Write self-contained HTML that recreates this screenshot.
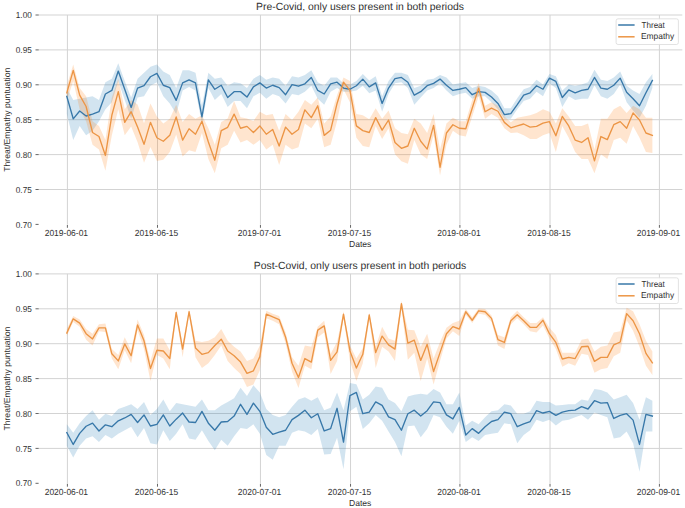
<!DOCTYPE html>
<html><head><meta charset="utf-8"><style>
html,body{margin:0;padding:0;background:#fff;}
body{width:685px;height:508px;overflow:hidden;}
svg{display:block;font-family:"Liberation Sans", sans-serif;text-rendering:geometricPrecision;}
text{fill:#303030;}
</style></head><body>
<svg width="685" height="508" viewBox="0 0 685 508">
<rect width="685" height="508" fill="#fff"/>
<line x1="38.1" y1="15.00" x2="682.3" y2="15.00" stroke="#d3d3d3" stroke-width="1.0"/>
<line x1="38.1" y1="49.90" x2="682.3" y2="49.90" stroke="#d3d3d3" stroke-width="1.0"/>
<line x1="38.1" y1="84.80" x2="682.3" y2="84.80" stroke="#d3d3d3" stroke-width="1.0"/>
<line x1="38.1" y1="119.70" x2="682.3" y2="119.70" stroke="#d3d3d3" stroke-width="1.0"/>
<line x1="38.1" y1="154.60" x2="682.3" y2="154.60" stroke="#d3d3d3" stroke-width="1.0"/>
<line x1="38.1" y1="189.50" x2="682.3" y2="189.50" stroke="#d3d3d3" stroke-width="1.0"/>
<line x1="67.40" y1="15.00" x2="67.40" y2="224.40" stroke="#d3d3d3" stroke-width="1.0"/>
<line x1="67.40" y1="224.90" x2="67.40" y2="227.80" stroke="#555" stroke-width="0.9"/>
<line x1="157.49" y1="15.00" x2="157.49" y2="224.40" stroke="#d3d3d3" stroke-width="1.0"/>
<line x1="157.49" y1="224.90" x2="157.49" y2="227.80" stroke="#555" stroke-width="0.9"/>
<line x1="260.45" y1="15.00" x2="260.45" y2="224.40" stroke="#d3d3d3" stroke-width="1.0"/>
<line x1="260.45" y1="224.90" x2="260.45" y2="227.80" stroke="#555" stroke-width="0.9"/>
<line x1="350.54" y1="15.00" x2="350.54" y2="224.40" stroke="#d3d3d3" stroke-width="1.0"/>
<line x1="350.54" y1="224.90" x2="350.54" y2="227.80" stroke="#555" stroke-width="0.9"/>
<line x1="459.93" y1="15.00" x2="459.93" y2="224.40" stroke="#d3d3d3" stroke-width="1.0"/>
<line x1="459.93" y1="224.90" x2="459.93" y2="227.80" stroke="#555" stroke-width="0.9"/>
<line x1="550.02" y1="15.00" x2="550.02" y2="224.40" stroke="#d3d3d3" stroke-width="1.0"/>
<line x1="550.02" y1="224.90" x2="550.02" y2="227.80" stroke="#555" stroke-width="0.9"/>
<line x1="659.42" y1="15.00" x2="659.42" y2="224.40" stroke="#d3d3d3" stroke-width="1.0"/>
<line x1="659.42" y1="224.90" x2="659.42" y2="227.80" stroke="#555" stroke-width="0.9"/>
<line x1="35.5" y1="15.00" x2="38.6" y2="15.00" stroke="#555" stroke-width="0.9"/>
<text x="31.8" y="18.10" text-anchor="end" font-size="8.6" textLength="16" lengthAdjust="spacingAndGlyphs">1.00</text>
<line x1="35.5" y1="49.90" x2="38.6" y2="49.90" stroke="#555" stroke-width="0.9"/>
<text x="31.8" y="53.00" text-anchor="end" font-size="8.6" textLength="16" lengthAdjust="spacingAndGlyphs">0.95</text>
<line x1="35.5" y1="84.80" x2="38.6" y2="84.80" stroke="#555" stroke-width="0.9"/>
<text x="31.8" y="87.90" text-anchor="end" font-size="8.6" textLength="16" lengthAdjust="spacingAndGlyphs">0.90</text>
<line x1="35.5" y1="119.70" x2="38.6" y2="119.70" stroke="#555" stroke-width="0.9"/>
<text x="31.8" y="122.80" text-anchor="end" font-size="8.6" textLength="16" lengthAdjust="spacingAndGlyphs">0.85</text>
<line x1="35.5" y1="154.60" x2="38.6" y2="154.60" stroke="#555" stroke-width="0.9"/>
<text x="31.8" y="157.70" text-anchor="end" font-size="8.6" textLength="16" lengthAdjust="spacingAndGlyphs">0.80</text>
<line x1="35.5" y1="189.50" x2="38.6" y2="189.50" stroke="#555" stroke-width="0.9"/>
<text x="31.8" y="192.60" text-anchor="end" font-size="8.6" textLength="16" lengthAdjust="spacingAndGlyphs">0.75</text>
<line x1="35.5" y1="224.40" x2="38.6" y2="224.40" stroke="#555" stroke-width="0.9"/>
<text x="31.8" y="227.50" text-anchor="end" font-size="8.6" textLength="16" lengthAdjust="spacingAndGlyphs">0.70</text>
<text x="44.70" y="235.70" font-size="8.8" textLength="43.4" lengthAdjust="spacingAndGlyphs">2019-06-01</text>
<text x="134.79" y="235.70" font-size="8.8" textLength="43.4" lengthAdjust="spacingAndGlyphs">2019-06-15</text>
<text x="237.75" y="235.70" font-size="8.8" textLength="43.4" lengthAdjust="spacingAndGlyphs">2019-07-01</text>
<text x="327.84" y="235.70" font-size="8.8" textLength="43.4" lengthAdjust="spacingAndGlyphs">2019-07-15</text>
<text x="437.23" y="235.70" font-size="8.8" textLength="43.4" lengthAdjust="spacingAndGlyphs">2019-08-01</text>
<text x="527.32" y="235.70" font-size="8.8" textLength="43.4" lengthAdjust="spacingAndGlyphs">2019-08-15</text>
<text x="636.72" y="235.70" font-size="8.8" textLength="43.4" lengthAdjust="spacingAndGlyphs">2019-09-01</text>
<text x="360.20" y="246.70" text-anchor="middle" font-size="8.6">Dates</text>
<text transform="translate(9.6,119.70) rotate(-90)" text-anchor="middle" font-size="8.6" textLength="104" lengthAdjust="spacingAndGlyphs">Threat/Empathy puntuation</text>
<text x="256.10" y="9.80" font-size="10.4" textLength="207.8" lengthAdjust="spacingAndGlyphs">Pre-Covid, only users present in both periods</text>
<path d="M66.80,88.09 L73.23,99.91 L79.67,98.72 L86.10,97.54 L92.54,96.36 L98.97,99.91 L105.41,82.18 L111.84,78.64 L118.28,63.27 L124.72,81.00 L131.15,97.54 L137.58,78.64 L144.02,72.73 L150.45,66.82 L156.89,64.45 L163.32,71.54 L169.76,75.09 L176.19,88.09 L182.63,70.36 L189.06,70.36 L195.50,72.73 L201.94,105.82 L208.37,72.73 L214.81,78.64 L221.24,77.45 L227.68,85.73 L234.11,82.18 L240.54,83.36 L246.98,88.09 L253.41,78.64 L259.85,75.09 L266.28,79.82 L272.72,77.45 L279.15,78.64 L285.59,85.73 L292.02,76.27 L298.46,77.45 L304.89,75.09 L311.33,70.36 L317.76,82.18 L324.20,85.73 L330.63,77.45 L337.07,77.45 L343.50,83.36 L349.94,84.54 L356.38,81.00 L362.81,73.91 L369.25,80.53 L375.68,76.27 L382.12,96.36 L388.55,81.00 L394.99,72.73 L401.42,72.73 L407.86,75.09 L414.29,88.09 L420.72,85.73 L427.16,79.82 L433.59,78.64 L440.03,75.09 L446.46,77.45 L452.90,84.54 L459.33,83.36 L465.77,82.18 L472.20,88.09 L478.64,85.73 L485.07,86.91 L491.51,90.45 L497.94,96.36 L504.38,108.18 L510.81,108.18 L517.25,98.25 L523.68,89.27 L530.12,86.91 L536.55,79.82 L542.99,84.54 L549.42,73.91 L555.86,76.27 L562.29,90.45 L568.73,84.54 L575.16,85.73 L581.60,84.54 L588.03,82.18 L594.47,69.65 L600.90,79.82 L607.34,81.00 L613.77,77.45 L620.21,71.54 L626.64,85.73 L633.08,90.45 L639.51,94.00 L645.95,82.18 L652.38,73.91 L652.38,88.09 L645.95,105.82 L639.51,117.63 L633.08,110.54 L626.64,102.27 L620.21,84.54 L613.77,94.00 L607.34,98.72 L600.90,96.36 L594.47,85.25 L588.03,98.72 L581.60,98.72 L575.16,99.91 L568.73,96.36 L562.29,107.00 L555.86,88.09 L549.42,83.36 L542.99,96.36 L536.55,91.63 L530.12,98.72 L523.68,101.09 L517.25,109.36 L510.81,118.81 L504.38,118.81 L497.94,109.36 L491.51,102.27 L485.07,96.36 L478.64,96.36 L472.20,98.72 L465.77,92.82 L459.33,94.00 L452.90,96.36 L446.46,90.45 L440.03,83.36 L433.59,88.09 L427.16,90.45 L420.72,97.54 L414.29,104.63 L407.86,88.09 L401.42,82.18 L394.99,83.36 L388.55,94.00 L382.12,111.72 L375.68,90.45 L369.25,93.29 L362.81,85.73 L356.38,90.45 L349.94,91.63 L343.50,91.63 L337.07,88.09 L330.63,91.63 L324.20,104.63 L317.76,98.72 L311.33,85.73 L304.89,91.63 L298.46,95.18 L292.02,94.00 L285.59,103.45 L279.15,96.36 L272.72,94.00 L266.28,98.72 L259.85,92.82 L253.41,96.36 L246.98,108.18 L240.54,101.09 L234.11,101.09 L227.68,107.00 L221.24,94.00 L214.81,99.91 L208.37,88.09 L201.94,123.54 L195.50,90.45 L189.06,86.91 L182.63,90.45 L176.19,114.09 L169.76,103.45 L163.32,96.36 L156.89,82.18 L150.45,85.73 L144.02,96.36 L137.58,97.54 L131.15,118.81 L124.72,99.91 L118.28,81.00 L111.84,102.27 L105.41,109.36 L98.97,121.18 L92.54,130.63 L86.10,135.36 L79.67,125.91 L73.23,140.09 L66.80,114.09 Z" fill="#1f77b4" fill-opacity="0.2" stroke="none"/>
<path d="M66.80,85.73 L73.23,64.45 L79.67,88.09 L86.10,96.36 L92.54,121.18 L98.97,125.91 L105.41,140.09 L111.84,97.54 L118.28,78.64 L124.72,109.36 L131.15,99.91 L137.58,104.40 L144.02,123.31 L150.45,103.45 L156.89,116.45 L163.32,123.54 L169.76,118.81 L176.19,104.63 L182.63,121.89 L189.06,114.09 L195.50,118.81 L201.94,115.27 L208.37,128.27 L214.81,144.81 L221.24,121.89 L227.68,118.58 L234.11,101.09 L240.54,117.16 L246.98,118.58 L253.41,120.94 L259.85,111.72 L266.28,115.27 L272.72,114.09 L279.15,130.63 L285.59,114.09 L292.02,120.00 L298.46,111.72 L304.89,99.91 L311.33,104.63 L317.76,97.54 L324.20,123.54 L330.63,116.45 L337.07,95.18 L343.50,77.45 L349.94,81.00 L356.38,114.09 L362.81,115.27 L369.25,119.29 L375.68,108.18 L382.12,118.81 L388.55,110.54 L394.99,128.27 L401.42,133.00 L407.86,134.18 L414.29,118.81 L420.72,123.54 L427.16,133.00 L433.59,114.09 L440.03,149.54 L446.46,123.54 L452.90,117.63 L459.33,121.18 L465.77,121.18 L472.20,99.91 L478.64,82.89 L485.07,105.82 L491.51,102.27 L497.94,105.82 L504.38,116.45 L510.81,122.36 L517.25,117.63 L523.68,116.45 L530.12,115.27 L536.55,112.91 L542.99,109.36 L549.42,111.72 L555.86,123.54 L562.29,108.18 L568.73,116.45 L575.16,125.91 L581.60,125.91 L588.03,123.54 L594.47,149.54 L600.90,118.81 L607.34,118.81 L613.77,109.36 L620.21,105.82 L626.64,112.91 L633.08,105.82 L639.51,109.36 L645.95,117.63 L652.38,117.63 L652.38,153.09 L645.95,151.90 L639.51,137.72 L633.08,125.91 L626.64,143.63 L620.21,137.72 L613.77,140.09 L607.34,158.99 L600.90,154.27 L594.47,173.18 L588.03,158.99 L581.60,158.99 L575.16,151.90 L568.73,137.72 L562.29,125.91 L555.86,151.90 L549.42,133.00 L542.99,135.36 L536.55,138.90 L530.12,138.90 L523.68,135.36 L517.25,132.52 L510.81,133.00 L504.38,128.27 L497.94,117.63 L491.51,114.09 L485.07,118.81 L478.64,96.36 L472.20,116.45 L465.77,136.54 L459.33,135.36 L452.90,130.63 L446.46,144.81 L440.03,175.54 L433.59,135.36 L427.16,158.99 L420.72,154.27 L414.29,140.09 L407.86,163.72 L401.42,161.36 L394.99,154.27 L388.55,128.27 L382.12,138.90 L375.68,125.91 L369.25,147.18 L362.81,146.00 L356.38,137.72 L349.94,102.27 L343.50,89.27 L337.07,121.18 L330.63,144.81 L324.20,147.18 L317.76,118.81 L311.33,128.27 L304.89,123.54 L298.46,147.18 L292.02,149.54 L285.59,144.81 L279.15,164.90 L272.72,144.81 L266.28,149.54 L259.85,140.09 L253.41,144.81 L246.98,140.09 L240.54,142.45 L234.11,130.63 L227.68,144.81 L221.24,148.36 L214.81,173.18 L208.37,158.99 L201.94,133.00 L195.50,151.90 L189.06,150.25 L182.63,156.39 L176.19,134.41 L169.76,151.90 L163.32,159.70 L156.89,161.12 L150.45,146.94 L144.02,162.78 L137.58,142.21 L131.15,126.38 L124.72,135.36 L118.28,109.36 L111.84,135.36 L105.41,170.81 L98.97,149.54 L92.54,144.81 L86.10,121.18 L79.67,109.36 L73.23,81.00 L66.80,101.09 Z" fill="#ff7f0e" fill-opacity="0.2" stroke="none"/>
<path d="M66.80,96.36 L73.23,118.81 L79.67,111.02 L86.10,115.98 L92.54,114.09 L98.97,111.72 L105.41,94.00 L111.84,90.45 L118.28,71.07 L124.72,89.27 L131.15,107.47 L137.58,88.09 L144.02,85.73 L150.45,76.74 L156.89,73.44 L163.32,85.25 L169.76,87.62 L176.19,100.38 L182.63,82.89 L189.06,79.82 L195.50,82.89 L201.94,116.92 L208.37,79.82 L214.81,89.27 L221.24,85.25 L227.68,97.54 L234.11,91.63 L240.54,91.63 L246.98,97.07 L253.41,86.91 L259.85,82.89 L266.28,88.09 L272.72,85.25 L279.15,87.62 L285.59,94.71 L292.02,84.54 L298.46,86.20 L304.89,83.83 L311.33,77.45 L317.76,90.45 L324.20,94.00 L330.63,83.83 L337.07,82.18 L343.50,88.09 L349.94,89.27 L356.38,85.73 L362.81,79.11 L369.25,86.91 L375.68,82.89 L382.12,103.45 L388.55,88.09 L394.99,78.64 L401.42,77.45 L407.86,82.18 L414.29,95.18 L420.72,91.63 L427.16,85.73 L433.59,83.36 L440.03,79.11 L446.46,85.25 L452.90,90.45 L459.33,89.27 L465.77,87.62 L472.20,94.71 L478.64,91.63 L485.07,92.34 L491.51,97.07 L497.94,103.45 L504.38,114.56 L510.81,113.61 L517.25,104.63 L523.68,95.18 L530.12,92.82 L536.55,85.73 L542.99,89.27 L549.42,78.16 L555.86,81.47 L562.29,97.54 L568.73,89.98 L575.16,92.82 L581.60,90.45 L588.03,89.27 L594.47,77.45 L600.90,88.09 L607.34,89.27 L613.77,85.25 L620.21,78.16 L626.64,92.34 L633.08,98.72 L639.51,105.82 L645.95,92.82 L652.38,80.53" fill="none" stroke="#3878a9" stroke-width="1.35" stroke-linejoin="round" stroke-linecap="square"/>
<path d="M66.80,92.82 L73.23,70.36 L79.67,95.18 L86.10,106.52 L92.54,132.52 L98.97,136.54 L105.41,155.45 L111.84,115.27 L118.28,91.63 L124.72,122.36 L131.15,111.72 L137.58,127.09 L144.02,144.34 L150.45,122.36 L156.89,137.72 L163.32,141.27 L169.76,135.36 L176.19,116.92 L182.63,140.09 L189.06,128.74 L195.50,134.18 L201.94,121.18 L208.37,141.98 L214.81,160.18 L221.24,130.63 L227.68,127.32 L234.11,114.09 L240.54,128.27 L246.98,126.38 L253.41,132.52 L259.85,125.91 L266.28,134.18 L272.72,129.45 L279.15,146.00 L285.59,127.09 L292.02,134.18 L298.46,129.45 L304.89,109.83 L311.33,117.63 L317.76,105.82 L324.20,135.36 L330.63,130.16 L337.07,103.45 L343.50,82.18 L349.94,90.45 L356.38,125.91 L362.81,130.63 L369.25,132.52 L375.68,117.63 L382.12,130.16 L388.55,120.00 L394.99,142.45 L401.42,148.36 L407.86,146.00 L414.29,128.27 L420.72,141.27 L427.16,149.07 L433.59,125.43 L440.03,167.27 L446.46,133.00 L452.90,124.72 L459.33,128.27 L465.77,128.74 L472.20,108.18 L478.64,88.09 L485.07,111.72 L491.51,108.18 L497.94,111.25 L504.38,122.36 L510.81,127.80 L517.25,125.91 L523.68,124.01 L530.12,127.09 L536.55,126.38 L542.99,123.07 L549.42,121.65 L555.86,135.83 L562.29,116.45 L568.73,125.91 L575.16,140.09 L581.60,142.45 L588.03,137.72 L594.47,160.89 L600.90,136.54 L607.34,139.61 L613.77,124.72 L620.21,121.65 L626.64,128.27 L633.08,112.91 L639.51,120.00 L645.95,133.00 L652.38,135.36" fill="none" stroke="#ec9545" stroke-width="1.35" stroke-linejoin="round" stroke-linecap="square"/>
<rect x="616.1" y="18.80" width="62.3" height="25.7" rx="2" ry="2" fill="#ffffff" fill-opacity="0.93" stroke="#dadada" stroke-width="0.8"/>
<line x1="618.2" y1="25.00" x2="634.6" y2="25.00" stroke="#3878a9" stroke-width="1.5"/>
<line x1="618.2" y1="36.80" x2="634.6" y2="36.80" stroke="#ec9545" stroke-width="1.5"/>
<text x="641.6" y="28.00" font-size="8.6" textLength="23.2" lengthAdjust="spacingAndGlyphs">Threat</text>
<text x="641.0" y="39.10" font-size="8.6" textLength="33.2" lengthAdjust="spacingAndGlyphs">Empathy</text>
<line x1="38.1" y1="273.90" x2="682.3" y2="273.90" stroke="#d3d3d3" stroke-width="1.0"/>
<line x1="38.1" y1="308.80" x2="682.3" y2="308.80" stroke="#d3d3d3" stroke-width="1.0"/>
<line x1="38.1" y1="343.70" x2="682.3" y2="343.70" stroke="#d3d3d3" stroke-width="1.0"/>
<line x1="38.1" y1="378.60" x2="682.3" y2="378.60" stroke="#d3d3d3" stroke-width="1.0"/>
<line x1="38.1" y1="413.50" x2="682.3" y2="413.50" stroke="#d3d3d3" stroke-width="1.0"/>
<line x1="38.1" y1="448.40" x2="682.3" y2="448.40" stroke="#d3d3d3" stroke-width="1.0"/>
<line x1="67.40" y1="273.90" x2="67.40" y2="483.30" stroke="#d3d3d3" stroke-width="1.0"/>
<line x1="67.40" y1="483.80" x2="67.40" y2="486.70" stroke="#555" stroke-width="0.9"/>
<line x1="157.49" y1="273.90" x2="157.49" y2="483.30" stroke="#d3d3d3" stroke-width="1.0"/>
<line x1="157.49" y1="483.80" x2="157.49" y2="486.70" stroke="#555" stroke-width="0.9"/>
<line x1="260.45" y1="273.90" x2="260.45" y2="483.30" stroke="#d3d3d3" stroke-width="1.0"/>
<line x1="260.45" y1="483.80" x2="260.45" y2="486.70" stroke="#555" stroke-width="0.9"/>
<line x1="350.54" y1="273.90" x2="350.54" y2="483.30" stroke="#d3d3d3" stroke-width="1.0"/>
<line x1="350.54" y1="483.80" x2="350.54" y2="486.70" stroke="#555" stroke-width="0.9"/>
<line x1="459.93" y1="273.90" x2="459.93" y2="483.30" stroke="#d3d3d3" stroke-width="1.0"/>
<line x1="459.93" y1="483.80" x2="459.93" y2="486.70" stroke="#555" stroke-width="0.9"/>
<line x1="550.02" y1="273.90" x2="550.02" y2="483.30" stroke="#d3d3d3" stroke-width="1.0"/>
<line x1="550.02" y1="483.80" x2="550.02" y2="486.70" stroke="#555" stroke-width="0.9"/>
<line x1="659.42" y1="273.90" x2="659.42" y2="483.30" stroke="#d3d3d3" stroke-width="1.0"/>
<line x1="659.42" y1="483.80" x2="659.42" y2="486.70" stroke="#555" stroke-width="0.9"/>
<line x1="35.5" y1="273.90" x2="38.6" y2="273.90" stroke="#555" stroke-width="0.9"/>
<text x="31.8" y="277.00" text-anchor="end" font-size="8.6" textLength="16" lengthAdjust="spacingAndGlyphs">1.00</text>
<line x1="35.5" y1="308.80" x2="38.6" y2="308.80" stroke="#555" stroke-width="0.9"/>
<text x="31.8" y="311.90" text-anchor="end" font-size="8.6" textLength="16" lengthAdjust="spacingAndGlyphs">0.95</text>
<line x1="35.5" y1="343.70" x2="38.6" y2="343.70" stroke="#555" stroke-width="0.9"/>
<text x="31.8" y="346.80" text-anchor="end" font-size="8.6" textLength="16" lengthAdjust="spacingAndGlyphs">0.90</text>
<line x1="35.5" y1="378.60" x2="38.6" y2="378.60" stroke="#555" stroke-width="0.9"/>
<text x="31.8" y="381.70" text-anchor="end" font-size="8.6" textLength="16" lengthAdjust="spacingAndGlyphs">0.85</text>
<line x1="35.5" y1="413.50" x2="38.6" y2="413.50" stroke="#555" stroke-width="0.9"/>
<text x="31.8" y="416.60" text-anchor="end" font-size="8.6" textLength="16" lengthAdjust="spacingAndGlyphs">0.80</text>
<line x1="35.5" y1="448.40" x2="38.6" y2="448.40" stroke="#555" stroke-width="0.9"/>
<text x="31.8" y="451.50" text-anchor="end" font-size="8.6" textLength="16" lengthAdjust="spacingAndGlyphs">0.75</text>
<line x1="35.5" y1="483.30" x2="38.6" y2="483.30" stroke="#555" stroke-width="0.9"/>
<text x="31.8" y="486.40" text-anchor="end" font-size="8.6" textLength="16" lengthAdjust="spacingAndGlyphs">0.70</text>
<text x="44.70" y="494.60" font-size="8.8" textLength="43.4" lengthAdjust="spacingAndGlyphs">2020-06-01</text>
<text x="134.79" y="494.60" font-size="8.8" textLength="43.4" lengthAdjust="spacingAndGlyphs">2020-06-15</text>
<text x="237.75" y="494.60" font-size="8.8" textLength="43.4" lengthAdjust="spacingAndGlyphs">2020-07-01</text>
<text x="327.84" y="494.60" font-size="8.8" textLength="43.4" lengthAdjust="spacingAndGlyphs">2020-07-15</text>
<text x="437.23" y="494.60" font-size="8.8" textLength="43.4" lengthAdjust="spacingAndGlyphs">2020-08-01</text>
<text x="527.32" y="494.60" font-size="8.8" textLength="43.4" lengthAdjust="spacingAndGlyphs">2020-08-15</text>
<text x="636.72" y="494.60" font-size="8.8" textLength="43.4" lengthAdjust="spacingAndGlyphs">2020-09-01</text>
<text x="360.20" y="505.60" text-anchor="middle" font-size="8.6">Dates</text>
<text transform="translate(9.6,378.60) rotate(-90)" text-anchor="middle" font-size="8.6" textLength="104" lengthAdjust="spacingAndGlyphs">Threat/Empathy puntuation</text>
<text x="253.80" y="268.70" font-size="10.4" textLength="212.4" lengthAdjust="spacingAndGlyphs">Post-Covid, only users present in both periods</text>
<path d="M66.80,424.36 L73.23,432.63 L79.67,423.18 L86.10,416.09 L92.54,410.18 L98.97,419.63 L105.41,413.72 L111.84,416.09 L118.28,409.00 L124.72,406.63 L131.15,404.27 L137.58,409.00 L144.02,401.91 L150.45,414.91 L156.89,409.00 L163.32,399.54 L169.76,411.36 L176.19,403.09 L182.63,404.27 L189.06,405.45 L195.50,406.63 L201.94,399.54 L208.37,410.18 L214.81,410.18 L221.24,405.45 L227.68,401.91 L234.11,398.36 L240.54,387.73 L246.98,396.00 L253.41,385.36 L259.85,392.45 L266.28,409.00 L272.72,414.91 L279.15,417.27 L285.59,414.91 L292.02,406.63 L298.46,399.54 L304.89,397.18 L311.33,400.73 L317.76,397.18 L324.20,410.18 L330.63,407.82 L337.07,392.45 L343.50,410.18 L349.94,383.00 L356.38,384.18 L362.81,399.54 L369.25,394.82 L375.68,386.54 L382.12,387.73 L388.55,399.54 L394.99,403.09 L401.42,411.36 L407.86,396.47 L414.29,394.82 L420.72,393.64 L427.16,394.82 L433.59,388.91 L440.03,392.45 L446.46,404.27 L452.90,404.27 L459.33,392.45 L465.77,425.54 L472.20,420.82 L478.64,424.36 L485.07,417.27 L491.51,411.36 L497.94,410.18 L504.38,404.27 L510.81,405.45 L517.25,413.72 L523.68,413.72 L530.12,411.36 L536.55,400.73 L542.99,401.91 L549.42,401.91 L555.86,405.45 L562.29,404.98 L568.73,404.27 L575.16,404.27 L581.60,399.54 L588.03,400.73 L594.47,388.91 L600.90,390.09 L607.34,392.45 L613.77,399.54 L620.21,397.18 L626.64,394.82 L633.08,403.09 L639.51,419.63 L645.95,397.18 L652.38,400.73 L652.38,431.45 L645.95,431.45 L639.51,471.63 L633.08,443.27 L626.64,431.45 L620.21,437.36 L613.77,438.54 L607.34,417.27 L600.90,414.91 L594.47,412.54 L588.03,419.63 L581.60,414.91 L575.16,417.27 L568.73,419.63 L562.29,420.82 L555.86,425.54 L549.42,419.63 L542.99,422.00 L536.55,419.63 L530.12,430.27 L523.68,435.00 L517.25,443.27 L510.81,424.36 L504.38,423.18 L497.94,432.63 L491.51,433.81 L485.07,435.00 L478.64,440.91 L472.20,437.36 L465.77,442.09 L459.33,420.82 L452.90,433.81 L446.46,426.72 L440.03,417.27 L433.59,414.91 L427.16,429.09 L420.72,437.36 L414.29,425.54 L407.86,426.25 L401.42,456.27 L394.99,442.09 L388.55,431.45 L382.12,420.82 L375.68,414.91 L369.25,423.18 L362.81,429.09 L356.38,406.63 L349.94,411.36 L343.50,469.27 L337.07,437.83 L330.63,453.90 L324.20,454.38 L317.76,429.09 L311.33,435.00 L304.89,431.45 L298.46,430.27 L292.02,432.63 L285.59,445.63 L279.15,445.63 L272.72,459.81 L266.28,455.09 L259.85,433.81 L253.41,424.36 L246.98,429.09 L240.54,427.91 L234.11,436.18 L227.68,445.63 L221.24,439.72 L214.81,450.36 L208.37,440.91 L201.94,430.27 L195.50,439.72 L189.06,438.54 L182.63,424.36 L176.19,433.81 L169.76,440.91 L163.32,430.27 L156.89,444.45 L150.45,443.27 L144.02,427.91 L137.58,437.36 L131.15,426.72 L124.72,430.27 L118.28,433.81 L111.84,438.54 L105.41,435.00 L98.97,442.09 L92.54,436.18 L86.10,438.54 L79.67,445.63 L73.23,457.45 L66.80,445.63 Z" fill="#1f77b4" fill-opacity="0.2" stroke="none"/>
<path d="M66.80,329.00 L73.23,316.00 L79.67,319.54 L86.10,329.00 L92.54,333.72 L98.97,324.27 L105.41,323.56 L111.84,349.09 L118.28,355.00 L124.72,337.27 L131.15,350.27 L137.58,319.54 L144.02,334.91 L150.45,360.91 L156.89,338.45 L163.32,338.45 L169.76,350.27 L176.19,310.09 L182.63,344.36 L189.06,308.91 L195.50,340.82 L201.94,342.00 L208.37,340.82 L214.81,337.27 L221.24,329.00 L227.68,340.82 L234.11,346.72 L240.54,351.45 L246.98,360.91 L253.41,358.54 L259.85,345.54 L266.28,310.80 L272.72,313.64 L279.15,316.00 L285.59,332.54 L292.02,357.36 L298.46,365.63 L304.89,345.54 L311.33,346.72 L317.76,326.63 L324.20,320.73 L330.63,353.81 L337.07,342.00 L343.50,311.27 L349.94,345.54 L356.38,358.54 L362.81,347.91 L369.25,312.45 L375.68,346.72 L382.12,326.63 L388.55,338.45 L394.99,340.82 L401.42,300.64 L407.86,329.71 L414.29,330.18 L420.72,346.72 L427.16,333.72 L433.59,358.54 L440.03,342.00 L446.46,327.82 L452.90,323.09 L459.33,320.73 L465.77,308.91 L472.20,317.18 L478.64,308.44 L485.07,308.91 L491.51,315.53 L497.94,334.91 L504.38,337.27 L510.81,317.18 L517.25,310.80 L523.68,317.18 L530.12,323.09 L536.55,323.09 L542.99,317.18 L549.42,327.82 L555.86,334.91 L562.29,352.63 L568.73,352.63 L575.16,352.63 L581.60,339.63 L588.03,338.45 L594.47,351.45 L600.90,346.72 L607.34,345.54 L613.77,332.54 L620.21,331.36 L626.64,307.73 L633.08,311.27 L639.51,324.27 L645.95,340.82 L652.38,351.45 L652.38,375.09 L645.95,365.63 L639.51,346.72 L633.08,330.65 L626.64,320.25 L620.21,352.63 L613.77,356.18 L607.34,368.00 L600.90,369.18 L594.47,372.72 L588.03,355.00 L581.60,353.81 L575.16,365.63 L568.73,363.27 L562.29,366.81 L555.86,349.09 L549.42,338.45 L542.99,325.45 L536.55,332.54 L530.12,331.36 L523.68,324.27 L517.25,318.36 L510.81,324.27 L504.38,349.09 L497.94,345.54 L491.51,321.91 L485.07,314.82 L478.64,313.64 L472.20,323.09 L465.77,314.82 L459.33,336.09 L452.90,331.36 L446.46,338.45 L440.03,360.91 L433.59,384.54 L427.16,358.54 L420.72,381.00 L414.29,352.63 L407.86,359.72 L401.42,307.73 L394.99,360.91 L388.55,351.45 L382.12,346.72 L375.68,368.00 L369.25,319.54 L362.81,363.27 L356.38,381.00 L349.94,360.91 L343.50,318.36 L337.07,360.91 L330.63,373.90 L324.20,332.54 L317.76,337.27 L311.33,369.18 L304.89,365.63 L298.46,388.09 L292.02,371.54 L285.59,343.18 L279.15,324.27 L272.72,320.73 L266.28,318.36 L259.85,370.36 L253.41,384.54 L246.98,386.90 L240.54,373.90 L234.11,368.00 L227.68,360.91 L221.24,345.54 L214.81,355.00 L208.37,363.27 L201.94,368.00 L195.50,357.36 L189.06,314.82 L182.63,357.36 L176.19,316.00 L169.76,369.18 L163.32,358.54 L156.89,355.00 L150.45,381.00 L144.02,349.09 L137.58,330.18 L131.15,363.27 L124.72,350.27 L118.28,369.18 L111.84,358.54 L105.41,332.07 L98.97,331.36 L92.54,345.54 L86.10,339.63 L79.67,326.63 L73.23,321.91 L66.80,336.09 Z" fill="#ff7f0e" fill-opacity="0.2" stroke="none"/>
<path d="M66.80,432.63 L73.23,444.45 L79.67,433.34 L86.10,426.25 L92.54,423.18 L98.97,430.98 L105.41,424.83 L111.84,426.72 L118.28,420.82 L124.72,417.98 L131.15,414.43 L137.58,422.47 L144.02,414.91 L150.45,426.02 L156.89,424.36 L163.32,414.91 L169.76,426.02 L176.19,419.16 L182.63,413.02 L189.06,422.00 L195.50,422.47 L201.94,411.36 L208.37,423.18 L214.81,430.27 L221.24,422.00 L227.68,421.52 L234.11,416.09 L240.54,404.27 L246.98,414.43 L253.41,403.09 L259.85,411.36 L266.28,427.20 L272.72,434.29 L279.15,432.16 L285.59,430.27 L292.02,419.63 L298.46,415.38 L304.89,410.18 L311.33,417.74 L317.76,413.72 L324.20,430.98 L330.63,428.61 L337.07,408.29 L343.50,442.09 L349.94,395.53 L356.38,392.45 L362.81,413.72 L369.25,412.07 L375.68,401.91 L382.12,405.45 L388.55,416.80 L394.99,419.63 L401.42,430.27 L407.86,413.72 L414.29,410.18 L420.72,416.09 L427.16,410.65 L433.59,401.91 L440.03,402.62 L446.46,414.91 L452.90,418.92 L459.33,407.34 L465.77,435.00 L472.20,428.61 L478.64,433.34 L485.07,426.72 L491.51,421.52 L497.94,419.63 L504.38,412.07 L510.81,413.72 L517.25,426.72 L523.68,423.89 L530.12,421.52 L536.55,410.65 L542.99,413.02 L549.42,411.36 L555.86,415.38 L562.29,412.07 L568.73,410.65 L575.16,410.18 L581.60,406.63 L588.03,409.00 L594.47,400.73 L600.90,403.09 L607.34,402.62 L613.77,418.45 L620.21,415.38 L626.64,413.72 L633.08,420.11 L639.51,444.45 L645.95,414.43 L652.38,416.09" fill="none" stroke="#3878a9" stroke-width="1.35" stroke-linejoin="round" stroke-linecap="square"/>
<path d="M66.80,333.02 L73.23,318.83 L79.67,323.09 L86.10,333.72 L92.54,338.92 L98.97,327.82 L105.41,327.82 L111.84,353.81 L118.28,360.91 L124.72,343.89 L131.15,355.71 L137.58,324.98 L144.02,340.82 L150.45,368.47 L156.89,350.27 L163.32,350.98 L169.76,358.54 L176.19,312.45 L182.63,349.09 L189.06,311.74 L195.50,347.91 L201.94,354.29 L208.37,352.63 L214.81,345.54 L221.24,339.16 L227.68,350.98 L234.11,355.71 L240.54,362.09 L246.98,373.43 L253.41,370.83 L259.85,356.65 L266.28,314.11 L272.72,316.94 L279.15,319.54 L285.59,337.27 L292.02,363.27 L298.46,377.45 L304.89,358.54 L311.33,362.09 L317.76,330.18 L324.20,325.93 L330.63,360.43 L337.07,351.92 L343.50,314.11 L349.94,350.98 L356.38,368.00 L362.81,354.29 L369.25,314.82 L375.68,352.63 L382.12,336.09 L388.55,344.83 L394.99,349.09 L401.42,303.71 L407.86,343.18 L414.29,340.11 L420.72,360.43 L427.16,344.36 L433.59,371.54 L440.03,352.63 L446.46,333.72 L452.90,326.63 L459.33,329.00 L465.77,311.74 L472.20,320.25 L478.64,310.80 L485.07,311.74 L491.51,318.36 L497.94,339.63 L504.38,342.47 L510.81,320.73 L517.25,314.82 L523.68,320.73 L530.12,327.34 L536.55,327.34 L542.99,320.25 L549.42,333.72 L555.86,342.47 L562.29,359.01 L568.73,357.36 L575.16,358.54 L581.60,346.72 L588.03,346.25 L594.47,361.38 L600.90,357.36 L607.34,357.36 L613.77,344.83 L620.21,342.00 L626.64,313.64 L633.08,320.73 L639.51,333.72 L645.95,353.34 L652.38,362.80" fill="none" stroke="#ec9545" stroke-width="1.35" stroke-linejoin="round" stroke-linecap="square"/>
<rect x="616.1" y="277.80" width="62.3" height="25.7" rx="2" ry="2" fill="#ffffff" fill-opacity="0.93" stroke="#dadada" stroke-width="0.8"/>
<line x1="618.2" y1="284.00" x2="634.6" y2="284.00" stroke="#3878a9" stroke-width="1.5"/>
<line x1="618.2" y1="295.80" x2="634.6" y2="295.80" stroke="#ec9545" stroke-width="1.5"/>
<text x="641.6" y="287.00" font-size="8.6" textLength="23.2" lengthAdjust="spacingAndGlyphs">Threat</text>
<text x="641.0" y="298.10" font-size="8.6" textLength="33.2" lengthAdjust="spacingAndGlyphs">Empathy</text>
</svg>
</body></html>
